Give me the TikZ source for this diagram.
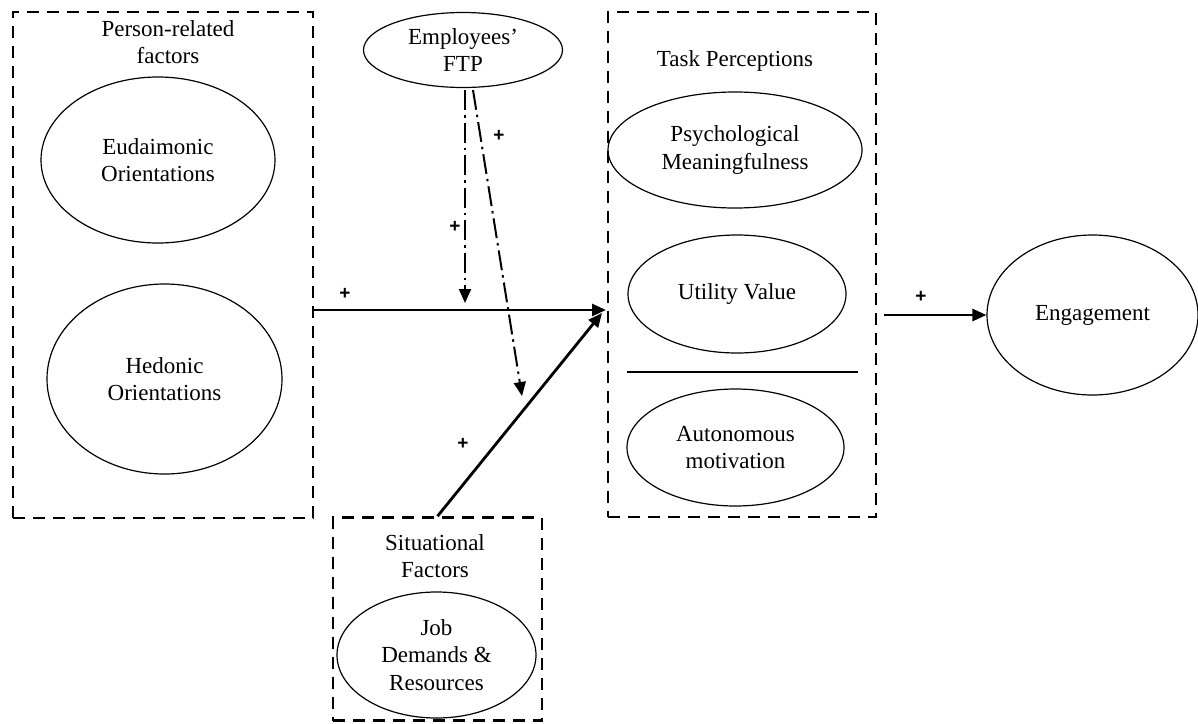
\documentclass[tikz,border=0pt]{standalone}
\usepackage{fontspec}
\setmainfont{Liberation Serif}
\newfontfamily\plusfont{Liberation Sans}
\usetikzlibrary{shapes.geometric,arrows.meta,calc}
\tikzset{
  grpbox/.style={draw, line width=2.6pt, dash pattern=on 12pt off 8pt, inner sep=0pt},
  oval/.style={draw, ellipse, line width=1.2pt, inner sep=0pt, align=center,
    font=\fontsize{23}{27.5}\selectfont},
  ttl/.style={align=center, inner sep=0pt, font=\fontsize{23}{27.5}\selectfont},
  plus/.style={inner sep=0pt, font=\plusfont\bfseries\fontsize{19}{19}\selectfont},
  solidarr/.style={line width=2.8pt, -{Triangle[length=14pt,width=12pt]}},
  dasharr/.style={line width=2pt, dash pattern=on 20pt off 5pt on 2.5pt off 5pt,
    -{Triangle[length=14pt,width=12pt]}},
}
\begin{document}
\begin{tikzpicture}[x=1pt,y=-1pt]
\useasboundingbox (0,0) rectangle (1198,723);
% group boxes
\node[grpbox, minimum width=300pt, minimum height=506pt] (pbox) at (163,265) {};
\node[grpbox, minimum width=268pt, minimum height=505pt] (tbox) at (742,264.5) {};
\node[grpbox, minimum width=209pt, minimum height=203pt] (sbox) at (437.5,619) {};
% titles
\node[ttl] (ptitle) at (168,42) {Person-related\\factors};
\node[ttl] (ttitle) at (735,61) {Task Perceptions};
\node[ttl] (stitle) at (435,556) {Situational\\Factors};
% ellipses
\node[oval, minimum width=234pt, minimum height=166pt] (eud) at (158,160) {Eudaimonic\\Orientations};
\node[oval, minimum width=235pt, minimum height=190pt] (hed) at (164.5,379) {Hedonic\\Orientations};
\node[oval, minimum width=199pt, minimum height=75pt] (ftp) at (463,50) {Employees’\\FTP};
\node[oval, minimum width=254pt, minimum height=116pt] (psy) at (735,150) {Psychological\\Meaningfulness};
\node[oval, minimum width=218pt, minimum height=118pt] (uti) at (737,294) {Utility Value};
\node[oval, minimum width=217pt, minimum height=117pt] (aut) at (735.5,447.5) {Autonomous\\motivation};
\node[oval, minimum width=211pt, minimum height=160pt] (eng) at (1092.5,315) {Engagement};
\node[oval, minimum width=199pt, minimum height=126pt] (job) at (436.5,655) {Job\\Demands \&\\Resources};
% separator line
\coordinate (sepL) at (627,372);
\coordinate (sepR) at (858,372);
\draw[line width=1.2pt] (sepL) -- (sepR);
% connectors
\coordinate (hy) at (0,310);
\coordinate (tipA) at (606,310);
\coordinate (tipB) at (602,313);
\coordinate (ftpA) at (465,90);
\coordinate (tipC) at (465,303);
\coordinate (ftpB) at (473,90);
\coordinate (tipD) at (522,396);
\draw[solidarr] (pbox.east |- hy) -- (tipA);
\draw[solidarr] (sbox.north) -- (tipB);
\draw[solidarr] ([xshift=7pt]tbox.east |- eng.west) -- (eng.west);
\draw[dasharr] (ftpA) -- (tipC);
\draw[dasharr] (ftpB) -- (tipD);
% plus labels
\node[plus] (p1) at (345,294) {+};
\node[plus] (p2) at (455,227) {+};
\node[plus] (p3) at (499,136) {+};
\node[plus] (p4) at (463,444) {+};
\node[plus] (p5) at (921,297) {+};
\end{tikzpicture}
\end{document}
